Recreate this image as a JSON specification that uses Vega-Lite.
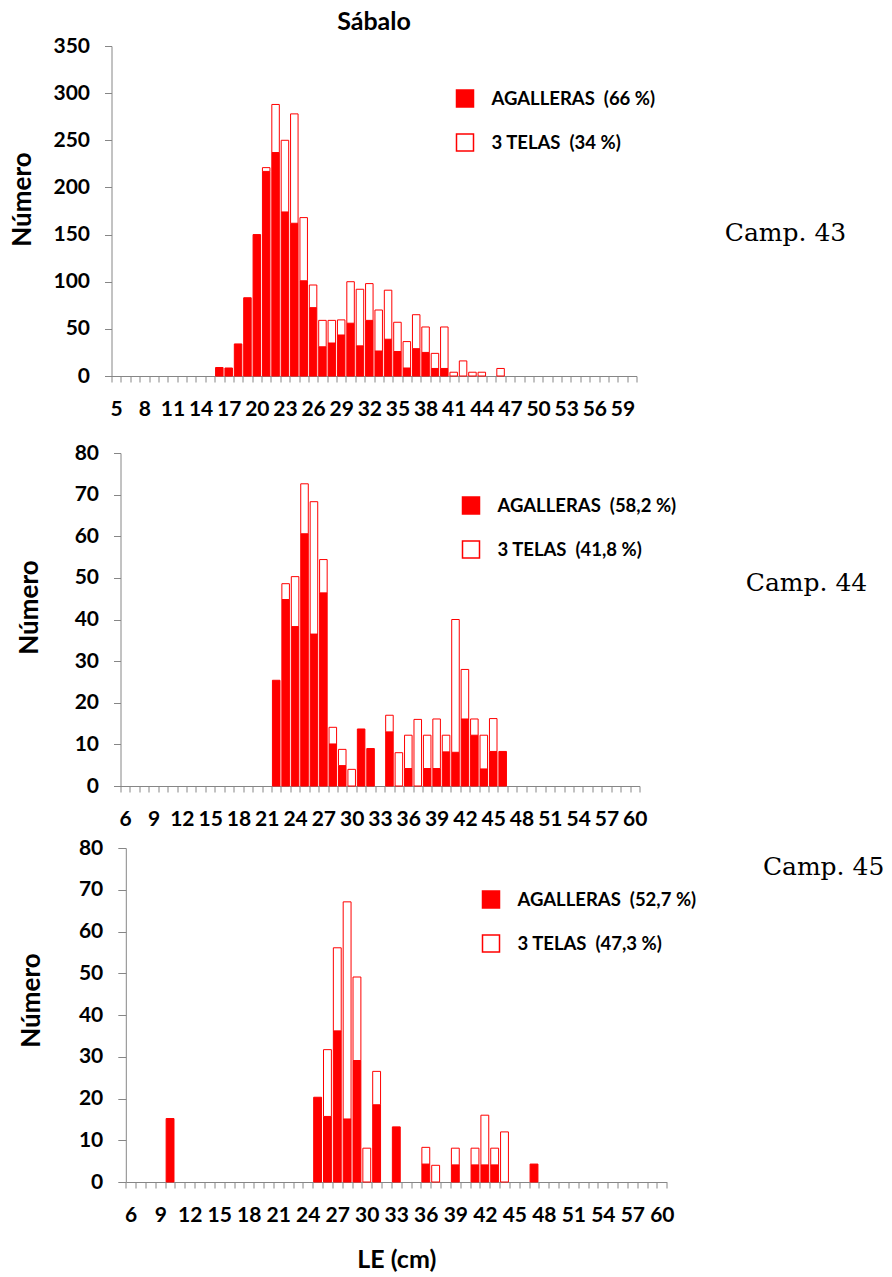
{
  "$schema": "https://vega.github.io/schema/vega-lite/v6.json",
  "padding": {"left": 8.5, "top": 10, "right": 0, "bottom": 0},
  "background": "white",
  "config": {
    "view": {"stroke": null},
    "axis": {"grid": false, "domainColor": "#868686", "tickColor": "#868686", "domainWidth": 1, "tickWidth": 1,
      "labelFont": "Lato", "labelFontWeight": "bold", "labelFontSize": 21, "labelColor": "#000000",
      "titleFont": "Lato", "titleFontWeight": "bold", "titleColor": "#000000"},
    "legend": {"labelFont": "Lato", "labelFontWeight": "bold", "labelFontSize": 18.5, "labelColor": "#000000", "labelLimit": 400}
  },
  "columns": 1,
  "align": "none",
  "spacing": 23,
  "resolve": {"scale": {"fill": "independent"}, "legend": {"fill": "independent"}},
  "concat": [
    {
      "width": 525,
      "height": 330,
      "title": {"text": "Sábalo", "font": "Lato", "fontSize": 25, "fontWeight": "bold", "color": "#000000", "frame": "group", "anchor": "middle", "offset": 0},
      "layer": [
        {
          "data": {"values": [
            {"c": 16, "s": "AGALLERAS", "n": 9},
            {"c": 17, "s": "AGALLERAS", "n": 8.5},
            {"c": 18, "s": "AGALLERAS", "n": 34},
            {"c": 19, "s": "AGALLERAS", "n": 83},
            {"c": 20, "s": "AGALLERAS", "n": 150},
            {"c": 21, "s": "AGALLERAS", "n": 217}, {"c": 21, "s": "3 TELAS", "n": 4},
            {"c": 22, "s": "AGALLERAS", "n": 237}, {"c": 22, "s": "3 TELAS", "n": 51},
            {"c": 23, "s": "AGALLERAS", "n": 174}, {"c": 23, "s": "3 TELAS", "n": 76},
            {"c": 24, "s": "AGALLERAS", "n": 162}, {"c": 24, "s": "3 TELAS", "n": 116},
            {"c": 25, "s": "AGALLERAS", "n": 101}, {"c": 25, "s": "3 TELAS", "n": 67},
            {"c": 26, "s": "AGALLERAS", "n": 72.5}, {"c": 26, "s": "3 TELAS", "n": 24},
            {"c": 27, "s": "AGALLERAS", "n": 31}, {"c": 27, "s": "3 TELAS", "n": 28},
            {"c": 28, "s": "AGALLERAS", "n": 35}, {"c": 28, "s": "3 TELAS", "n": 24},
            {"c": 29, "s": "AGALLERAS", "n": 43.5}, {"c": 29, "s": "3 TELAS", "n": 16},
            {"c": 30, "s": "AGALLERAS", "n": 56}, {"c": 30, "s": "3 TELAS", "n": 44},
            {"c": 31, "s": "AGALLERAS", "n": 32}, {"c": 31, "s": "3 TELAS", "n": 60},
            {"c": 32, "s": "AGALLERAS", "n": 59}, {"c": 32, "s": "3 TELAS", "n": 39},
            {"c": 33, "s": "AGALLERAS", "n": 26.5}, {"c": 33, "s": "3 TELAS", "n": 43.5},
            {"c": 34, "s": "AGALLERAS", "n": 39}, {"c": 34, "s": "3 TELAS", "n": 52},
            {"c": 35, "s": "AGALLERAS", "n": 26}, {"c": 35, "s": "3 TELAS", "n": 31},
            {"c": 36, "s": "AGALLERAS", "n": 8.5}, {"c": 36, "s": "3 TELAS", "n": 28},
            {"c": 37, "s": "AGALLERAS", "n": 29}, {"c": 37, "s": "3 TELAS", "n": 36},
            {"c": 38, "s": "AGALLERAS", "n": 25}, {"c": 38, "s": "3 TELAS", "n": 27},
            {"c": 39, "s": "AGALLERAS", "n": 8}, {"c": 39, "s": "3 TELAS", "n": 16},
            {"c": 40, "s": "AGALLERAS", "n": 8}, {"c": 40, "s": "3 TELAS", "n": 44},
            {"c": 41, "s": "3 TELAS", "n": 4},
            {"c": 42, "s": "3 TELAS", "n": 16},
            {"c": 43, "s": "3 TELAS", "n": 4},
            {"c": 44, "s": "3 TELAS", "n": 4},
            {"c": 46, "s": "3 TELAS", "n": 8}
          ]},
          "mark": {"type": "bar", "stroke": "#ff0000", "strokeWidth": 1, "width": {"band": 0.8}},
          "encoding": {
            "x": {"field": "c", "type": "ordinal",
              "scale": {"domain": [5,6,7,8,9,10,11,12,13,14,15,16,17,18,19,20,21,22,23,24,25,26,27,28,29,30,31,32,33,34,35,36,37,38,39,40,41,42,43,44,45,46,47,48,49,50,51,52,53,54,55,56,57,58,59,60], "paddingInner": 0, "paddingOuter": 0},
              "axis": {"title": null, "labelAngle": 0, "labelOverlap": false, "tickBand": "extent", "tickSize": 6, "labelPadding": 16,
                "labelExpr": "(datum.value - 5) % 3 == 0 ? datum.label : ''"}},
            "y": {"field": "n", "type": "quantitative", "stack": "zero",
              "scale": {"domain": [0, 350], "nice": false},
              "axis": {"values": [0, 50, 100, 150, 200, 250, 300, 350], "tickSize": 7, "labelPadding": 15,
                "title": "Número", "titleFontSize": 26, "titlePadding": 17.7, "titleY": 153}},
            "fill": {"field": "s", "type": "nominal",
              "scale": {"domain": ["AGALLERAS", "3 TELAS"], "range": ["#ff0000", "#ffffff"]},
              "legend": {"orient": "none", "legendX": 344, "legendY": 43, "title": null, "symbolType": "square", "symbolSize": 289,
                "symbolStrokeColor": "#ff0000", "symbolStrokeWidth": 1.5, "labelOffset": 17, "rowPadding": 21,
                "labelExpr": "datum.label == 'AGALLERAS' ? 'AGALLERAS\u00a0 (66 %)' : '3 TELAS\u00a0 (34 %)'"}},
            "order": {"field": "s", "sort": "descending"}
          }
        },
        {
          "data": {"values": [{"t": "Camp. 43"}]},
          "mark": {"type": "text", "font": "DejaVu Serif", "fontSize": 25, "align": "left", "baseline": "middle", "dx": 93, "color": "#000000"},
          "encoding": {
            "x": {"datum": 60, "type": "ordinal"},
            "y": {"datum": 152, "type": "quantitative"},
            "text": {"field": "t"}
          }
        }
      ]
    },
    {
      "columns": 1,
      "align": "none",
      "spacing": 8,
      "resolve": {"scale": {"fill": "independent"}, "legend": {"fill": "independent"}},
      "concat": [
        {
          "width": 528,
          "height": 333,
          "layer": [
            {
              "data": {"values": [
                {"c": 22, "s": "AGALLERAS", "n": 25.4},
                {"c": 23, "s": "AGALLERAS", "n": 44.8}, {"c": 23, "s": "3 TELAS", "n": 3.8},
                {"c": 24, "s": "AGALLERAS", "n": 38.3}, {"c": 24, "s": "3 TELAS", "n": 12},
                {"c": 25, "s": "AGALLERAS", "n": 60.6}, {"c": 25, "s": "3 TELAS", "n": 12},
                {"c": 26, "s": "AGALLERAS", "n": 36.5}, {"c": 26, "s": "3 TELAS", "n": 31.8},
                {"c": 27, "s": "AGALLERAS", "n": 46.4}, {"c": 27, "s": "3 TELAS", "n": 8},
                {"c": 28, "s": "AGALLERAS", "n": 10.1}, {"c": 28, "s": "3 TELAS", "n": 4},
                {"c": 29, "s": "AGALLERAS", "n": 4.9}, {"c": 29, "s": "3 TELAS", "n": 3.9},
                {"c": 30, "s": "3 TELAS", "n": 4},
                {"c": 31, "s": "AGALLERAS", "n": 13.7},
                {"c": 32, "s": "AGALLERAS", "n": 9},
                {"c": 34, "s": "AGALLERAS", "n": 13}, {"c": 34, "s": "3 TELAS", "n": 4},
                {"c": 35, "s": "3 TELAS", "n": 8},
                {"c": 36, "s": "AGALLERAS", "n": 4.2}, {"c": 36, "s": "3 TELAS", "n": 8},
                {"c": 37, "s": "3 TELAS", "n": 16},
                {"c": 38, "s": "AGALLERAS", "n": 4.2}, {"c": 38, "s": "3 TELAS", "n": 8},
                {"c": 39, "s": "AGALLERAS", "n": 4.2}, {"c": 39, "s": "3 TELAS", "n": 11.9},
                {"c": 40, "s": "AGALLERAS", "n": 8.2}, {"c": 40, "s": "3 TELAS", "n": 4},
                {"c": 41, "s": "AGALLERAS", "n": 8.1}, {"c": 41, "s": "3 TELAS", "n": 31.9},
                {"c": 42, "s": "AGALLERAS", "n": 16.1}, {"c": 42, "s": "3 TELAS", "n": 11.9},
                {"c": 43, "s": "AGALLERAS", "n": 12.2}, {"c": 43, "s": "3 TELAS", "n": 3.9},
                {"c": 44, "s": "AGALLERAS", "n": 4.1}, {"c": 44, "s": "3 TELAS", "n": 8.1},
                {"c": 45, "s": "AGALLERAS", "n": 8.3}, {"c": 45, "s": "3 TELAS", "n": 7.9},
                {"c": 46, "s": "AGALLERAS", "n": 8.3}
              ]},
              "mark": {"type": "bar", "stroke": "#ff0000", "strokeWidth": 1, "width": {"band": 0.8}},
              "encoding": {
                "x": {"field": "c", "type": "ordinal",
                  "scale": {"domain": [6,7,8,9,10,11,12,13,14,15,16,17,18,19,20,21,22,23,24,25,26,27,28,29,30,31,32,33,34,35,36,37,38,39,40,41,42,43,44,45,46,47,48,49,50,51,52,53,54,55,56,57,58,59,60], "range": [9, 528], "paddingInner": 0, "paddingOuter": 0},
                  "axis": {"title": null, "labelAngle": 0, "labelOverlap": false, "tickBand": "extent", "tickSize": 6, "labelPadding": 16,
                    "labelExpr": "(datum.value - 6) % 3 == 0 ? datum.label : ''"}},
                "y": {"field": "n", "type": "quantitative", "stack": "zero",
                  "scale": {"domain": [0, 80], "nice": false},
                  "axis": {"values": [0, 10, 20, 30, 40, 50, 60, 70, 80], "offset": -9, "tickSize": 7, "labelPadding": 15,
                    "title": "Número", "titleFontSize": 26, "titlePadding": 31.5, "titleY": 154}},
                "fill": {"field": "s", "type": "nominal",
                  "scale": {"domain": ["AGALLERAS", "3 TELAS"], "range": ["#ff0000", "#ffffff"]},
                  "legend": {"orient": "none", "legendX": 350, "legendY": 43, "title": null, "symbolType": "square", "symbolSize": 289,
                    "symbolStrokeColor": "#ff0000", "symbolStrokeWidth": 1.5, "labelOffset": 17, "rowPadding": 21,
                    "labelExpr": "datum.label == 'AGALLERAS' ? 'AGALLERAS\u00a0 (58,2 %)' : '3 TELAS\u00a0 (41,8 %)'"}},
                "order": {"field": "s", "sort": "descending"}
              }
            },
            {
              "data": {"values": [{"t": "Camp. 44"}]},
              "mark": {"type": "text", "font": "DejaVu Serif", "fontSize": 25, "align": "left", "baseline": "middle", "dx": 111, "color": "#000000"},
              "encoding": {
                "x": {"datum": 60, "type": "ordinal"},
                "y": {"datum": 48.7, "type": "quantitative"},
                "text": {"field": "t"}
              }
            }
          ]
        },
        {
          "width": 556,
          "height": 334,
          "layer": [
            {
              "data": {"values": [
                {"c": 10, "s": "AGALLERAS", "n": 15.2},
                {"c": 25, "s": "AGALLERAS", "n": 20.3},
                {"c": 26, "s": "AGALLERAS", "n": 15.7}, {"c": 26, "s": "3 TELAS", "n": 16},
                {"c": 27, "s": "AGALLERAS", "n": 36.2}, {"c": 27, "s": "3 TELAS", "n": 19.9},
                {"c": 28, "s": "AGALLERAS", "n": 15.1}, {"c": 28, "s": "3 TELAS", "n": 52},
                {"c": 29, "s": "AGALLERAS", "n": 29.1}, {"c": 29, "s": "3 TELAS", "n": 20},
                {"c": 30, "s": "3 TELAS", "n": 8.1},
                {"c": 31, "s": "AGALLERAS", "n": 18.5}, {"c": 31, "s": "3 TELAS", "n": 8},
                {"c": 33, "s": "AGALLERAS", "n": 13.2},
                {"c": 36, "s": "AGALLERAS", "n": 4.3}, {"c": 36, "s": "3 TELAS", "n": 4},
                {"c": 37, "s": "3 TELAS", "n": 4},
                {"c": 39, "s": "AGALLERAS", "n": 4.1}, {"c": 39, "s": "3 TELAS", "n": 4},
                {"c": 41, "s": "AGALLERAS", "n": 4.1}, {"c": 41, "s": "3 TELAS", "n": 4},
                {"c": 42, "s": "AGALLERAS", "n": 4.1}, {"c": 42, "s": "3 TELAS", "n": 11.9},
                {"c": 43, "s": "AGALLERAS", "n": 4.1}, {"c": 43, "s": "3 TELAS", "n": 4},
                {"c": 44, "s": "3 TELAS", "n": 12},
                {"c": 47, "s": "AGALLERAS", "n": 4.3}
              ]},
              "mark": {"type": "bar", "stroke": "#ff0000", "strokeWidth": 1, "width": {"band": 0.8}},
              "encoding": {
                "x": {"field": "c", "type": "ordinal",
                  "scale": {"domain": [6,7,8,9,10,11,12,13,14,15,16,17,18,19,20,21,22,23,24,25,26,27,28,29,30,31,32,33,34,35,36,37,38,39,40,41,42,43,44,45,46,47,48,49,50,51,52,53,54,55,56,57,58,59,60], "range": [14.3, 555.3], "paddingInner": 0, "paddingOuter": 0},
                  "axis": {"title": "LE (cm)", "titleFontSize": 25, "titlePadding": 22, "labelAngle": 0, "labelOverlap": false, "tickBand": "extent", "tickSize": 6, "labelPadding": 16,
                    "labelExpr": "(datum.value - 6) % 3 == 0 ? datum.label : ''"}},
                "y": {"field": "n", "type": "quantitative", "stack": "zero",
                  "scale": {"domain": [0, 80], "nice": false},
                  "axis": {"values": [0, 10, 20, 30, 40, 50, 60, 70, 80], "offset": -14.3, "tickSize": 8, "labelPadding": 15,
                    "title": "Número", "titleFontSize": 26, "titlePadding": 34, "titleY": 152}},
                "fill": {"field": "s", "type": "nominal",
                  "scale": {"domain": ["AGALLERAS", "3 TELAS"], "range": ["#ff0000", "#ffffff"]},
                  "legend": {"orient": "none", "legendX": 370, "legendY": 42, "title": null, "symbolType": "square", "symbolSize": 289,
                    "symbolStrokeColor": "#ff0000", "symbolStrokeWidth": 1.5, "labelOffset": 17, "rowPadding": 21,
                    "labelExpr": "datum.label == 'AGALLERAS' ? 'AGALLERAS\u00a0 (52,7 %)' : '3 TELAS\u00a0 (47,3 %)'"}},
                "order": {"field": "s", "sort": "descending"}
              }
            },
            {
              "data": {"values": [{"t": "Camp. 45"}]},
              "mark": {"type": "text", "font": "DejaVu Serif", "fontSize": 25, "align": "left", "baseline": "middle", "dx": 101, "color": "#000000"},
              "encoding": {
                "x": {"datum": 60, "type": "ordinal"},
                "y": {"datum": 75.4, "type": "quantitative"},
                "text": {"field": "t"}
              }
            }
          ]
        }
      ]
    }
  ]
}
